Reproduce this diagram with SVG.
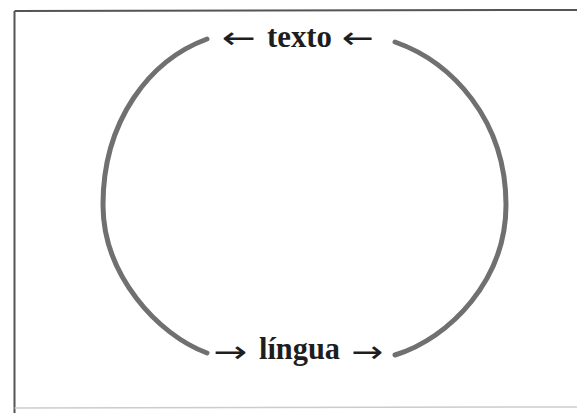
<svg xmlns="http://www.w3.org/2000/svg" width="577" height="413" viewBox="0 0 577 413">
<style>
.lbl{font-family:"Liberation Serif","Times New Roman",serif;font-weight:bold;font-size:31px;fill:#1e1e1e}
.arr{font-family:"DejaVu Sans","Liberation Serif",sans-serif;font-size:30px;fill:#1e1e1e}
.arc{fill:none;stroke:#707070;stroke-width:5;stroke-linecap:round}
</style>
<rect width="577" height="413" fill="#ffffff"/>
<g id="frame" fill="none">
<line x1="14.5" y1="11" x2="577" y2="10" stroke="#555" stroke-width="2"/>
<line x1="14.5" y1="11" x2="14.5" y2="413" stroke="#555" stroke-width="2"/>
<line x1="14.5" y1="408" x2="577" y2="407" stroke="#ccc" stroke-width="1.5"/>
</g>
<g id="connectors">
<path class="arc" d="M 207 39 C 150 60 103 120 103 205 C 103 275 158 335 207 353"/>
<path class="arc" d="M 395 42 C 452 62 506 120 506 205 C 506 280 450 338 395 355"/>
</g>
<g id="texto">
<text class="arr" x="222" y="48" textLength="34" lengthAdjust="spacingAndGlyphs">←</text>
<text class="lbl" x="267" y="47" textLength="65" lengthAdjust="spacingAndGlyphs">texto</text>
<text class="arr" x="342" y="48" textLength="32" lengthAdjust="spacingAndGlyphs">←</text>
</g>
<g id="lingua">
<text class="arr" x="213" y="362" textLength="34" lengthAdjust="spacingAndGlyphs">→</text>
<text class="lbl" x="259" y="359" textLength="81" lengthAdjust="spacingAndGlyphs">língua</text>
<text class="arr" x="351" y="362" textLength="32" lengthAdjust="spacingAndGlyphs">→</text>
</g>
</svg>
